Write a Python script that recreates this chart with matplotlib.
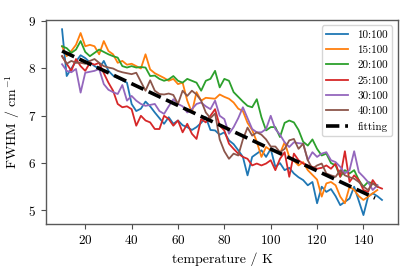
import matplotlib
matplotlib.use("Agg")
import matplotlib.pyplot as plt
import numpy as np

plt.rcParams["font.family"] = "serif"
plt.rcParams["font.serif"] = ["cmr10"]
plt.rcParams["mathtext.fontset"] = "cm"
plt.rcParams["axes.formatter.use_mathtext"] = True
plt.rcParams["axes.unicode_minus"] = False

# temperature grid (K)
temps = np.arange(10, 150, 2)

fwhm_10 = [8.83, 7.84, 8.0, 8.15, 8.28, 8.22, 8.13, 8.05, 8.0, 8.16,
           7.95, 7.85, 7.8, 7.75, 7.7, 7.25, 7.1, 7.15, 7.3, 7.2,
           7.07, 6.95, 6.83, 6.97, 6.83, 6.9, 6.8, 6.76, 6.7, 6.76,
           6.85, 6.97, 6.7, 6.69, 6.6, 6.65, 6.48, 6.4, 6.27, 6.13,
           5.74, 6.13, 6.2, 6.27, 6.13, 6.3, 5.92, 6.0, 5.85, 5.9,
           5.78, 5.7, 5.64, 5.53, 5.6, 5.15, 5.5, 5.39, 5.45, 5.3,
           5.11, 5.18, 5.25, 5.5, 5.2, 4.9, 5.29, 5.36, 5.3, 5.22]
fwhm_15 = [8.47, 8.26, 8.37, 8.5, 8.75, 8.47, 8.5, 8.47, 8.3, 8.58,
           8.37, 8.3, 8.12, 8.16, 8.08, 8.1, 8.05, 8.0, 8.3, 7.98,
           7.9, 7.85, 7.8, 7.74, 7.78, 7.67, 7.7, 7.32, 7.07, 7.5,
           7.32, 7.38, 7.37, 7.36, 7.45, 7.4, 7.36, 7.28, 7.15, 7.1,
           6.85, 6.7, 6.45, 6.13, 6.34, 6.27, 6.25, 6.2, 6.44, 6.13,
           6.05, 5.95, 6.02, 5.85, 5.75, 5.65, 5.29, 5.57, 5.6, 5.53,
           5.29, 5.15, 5.5, 5.43, 5.3, 5.22, 5.29, 5.36, 5.43]
fwhm_20 = [8.47, 8.43, 8.33, 8.4, 8.58, 8.35, 8.26, 8.33, 8.4, 8.35,
           8.3, 8.26, 8.23, 8.05, 8.02, 8.05, 8.02, 8.03, 8.02, 7.84,
           7.85, 7.78, 7.74, 7.77, 7.84, 7.74, 7.7, 7.78, 7.74, 7.7,
           7.53, 7.74, 7.78, 7.95, 7.6, 7.78, 7.74, 7.5, 7.4, 7.3,
           7.21, 7.18, 7.35, 6.97, 6.69, 6.76, 6.76, 6.55, 6.85, 6.9,
           6.86, 6.7, 6.45, 6.37, 6.5, 6.3, 6.16, 6.2, 6.0, 5.95,
           5.71, 5.85, 5.78, 5.85, 5.64, 5.5, 5.6, 5.57, 5.53]
fwhm_25 = [8.26, 8.1, 7.95, 8.2, 8.05, 7.95, 8.12, 8.08, 8.12, 7.9,
           7.7, 7.53, 7.25, 7.18, 7.2, 7.14, 6.79, 7.0, 6.9, 6.86,
           6.72, 6.72, 7.0, 6.93, 6.79, 6.9, 6.65, 6.83, 6.62, 6.51,
           6.93, 6.86, 7.0, 7.14, 6.79, 6.69, 6.41, 6.3, 6.2, 6.13,
           6.09, 5.95, 5.99, 5.95, 5.99, 6.06, 5.85, 6.09, 6.23, 5.71,
           6.2, 6.06, 5.99, 5.95, 5.92, 5.88, 5.9, 5.95, 5.88, 5.99,
           5.71, 6.25, 5.6, 5.74, 5.64, 5.43, 5.39, 5.64, 5.5, 5.46]
fwhm_30 = [8.09, 7.95, 7.92, 7.99, 7.49, 7.91, 7.93, 7.95, 7.99, 7.67,
           7.55, 7.5, 7.46, 7.65, 7.32, 7.42, 7.32, 7.25, 7.21, 7.23,
           7.25, 7.1, 7.04, 7.2, 7.35, 7.25, 7.2, 7.07, 7.14, 7.25,
           7.28, 7.2, 7.14, 7.32, 7.0, 6.93, 6.62, 6.76, 6.95, 7.18,
           6.95, 6.72, 6.65, 6.65, 6.72, 7.0, 6.72, 6.6, 6.44, 6.34,
           6.44, 6.42, 6.41, 6.06, 6.23, 6.13, 6.2, 6.23, 6.06, 6.02,
           5.92, 5.78, 5.85, 6.25, 5.81, 5.71, 5.6, 5.43, 5.53]
fwhm_40 = [8.26, 8.1, 8.16, 8.12, 8.12, 8.1, 8.16, 8.2, 8.12, 8.05,
           8.02, 8.0, 7.95, 7.92, 7.9, 7.88, 7.91, 7.72, 7.53, 7.75,
           7.53, 7.46, 7.45, 7.47, 7.44, 7.25, 7.53, 7.42, 7.53, 7.45,
           7.32, 7.07, 6.95, 7.05, 6.5, 6.25, 6.09, 6.2, 6.16, 6.5,
           6.75, 6.58, 6.65, 6.6, 6.5, 6.35, 6.35, 6.23, 6.3, 6.48,
           6.51, 6.3, 6.41, 6.06, 5.88, 5.95, 5.99, 5.78, 5.74, 5.71,
           5.85, 5.74, 5.7, 5.67, 5.6, 5.5, 5.43, 5.57, 5.5]

series = [
    ("10:100", fwhm_10),
    ("15:100", fwhm_15),
    ("20:100", fwhm_20),
    ("25:100", fwhm_25),
    ("30:100", fwhm_30),
    ("40:100", fwhm_40),
]

# linear fit, end points
fit_x = [10, 145]
fit_y = [8.37, 5.26]

fig = plt.figure(figsize=(4.15, 2.77), dpi=100)
ax = fig.add_axes([0.111, 0.19, 0.848, 0.738])

for label, vals in series:
    ax.plot(temps[:len(vals)], vals, lw=1.3, label=label)
ax.plot(fit_x, fit_y, color="black", ls="--", lw=2.6, label="fitting", zorder=5)

ax.set_xlabel("temperature / K", fontsize=10)
ax.set_ylabel("FWHM / cm$^{-1}$", fontsize=10)
ax.set_xticks([20, 40, 60, 80, 100, 120, 140])
ax.set_yticks([5, 6, 7, 8, 9])
ax.tick_params(labelsize=9.5, color="0.3", length=3.5, width=0.8)
for sp in ax.spines.values():
    sp.set_color("0.35")
    sp.set_linewidth(1.0)

leg = ax.legend(loc="upper right", fontsize=8, frameon=True, borderaxespad=0.5,
                handlelength=2.0, labelspacing=0.5)
leg.get_frame().set_edgecolor("0.8")

fig.savefig("out.png", dpi=100)
